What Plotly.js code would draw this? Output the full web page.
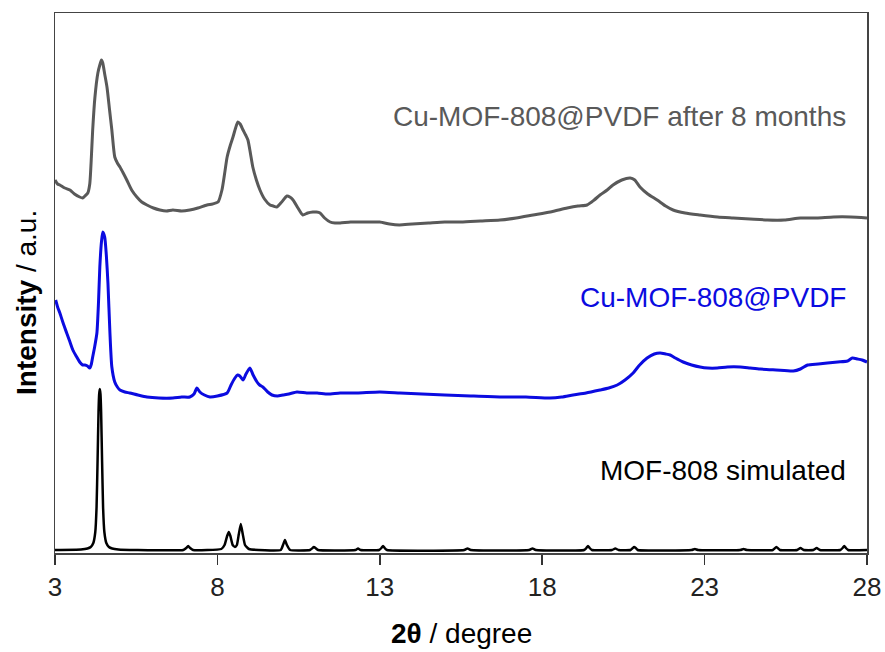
<!DOCTYPE html>
<html>
<head>
<meta charset="utf-8">
<script src="https://cdn.plot.ly/plotly-3.0.1.min.js"></script>
<style>html,body{margin:0;padding:0;background:#fff;}#chart{width:885px;height:652px;}</style>
</head>
<body>
<div id="chart"></div>
<script>
// 2θ (degree) and intensity (a.u., stacked offsets)
const agedX = [3.0,3.08,3.15,3.3,3.46,3.6,3.76,3.85,3.92,4.01,4.07,4.12,4.16,4.23,4.32,4.38,4.43,4.47,4.53,4.60,4.68,4.75,4.84,4.92,5.00,5.10,5.21,5.36,5.52,5.67,5.83,6.03,6.23,6.43,6.63,6.9,7.15,7.4,7.68,7.85,8.02,8.14,8.22,8.30,8.40,8.48,8.56,8.63,8.70,8.79,8.87,8.94,9.02,9.09,9.2,9.31,9.45,9.62,9.72,9.83,9.98,10.14,10.23,10.33,10.48,10.63,10.78,10.94,11.05,11.16,11.3,11.47,11.62,11.78,12.1,12.5,13.0,13.3,13.6,14.0,14.5,15.0,15.5,16.1,16.7,17.2,17.72,18.25,18.77,19.1,19.38,19.6,19.78,20.0,20.18,20.45,20.71,20.85,21.01,21.25,21.54,21.8,22.03,22.4,22.86,23.4,23.88,24.4,24.93,25.45,25.95,26.45,26.97,27.5,28.0];
const agedY = [372,368,367,364,362,358,355,354,356,359,368,395,422,455,479,487,492,489,478,465,442,422,395,389,385,379,372,362,355,350,347,344,342,341,342,341,342,344,347,348,350,362,378,395,407,415,424,430,428,422,417,412,398,385,372,362,353,347,346,345,350,356,355,352,344,337,339,340,340,339,334,330,329,329,330,330,330,328,327,328,329,330,330,331,332,334,337,340,344,346,347,352,357,362,367,372,374,372,365,358,352,346,342,339,337,335,334,333,332,332,334,334,335,335,334];

const pvdfX = [3.02,3.08,3.15,3.25,3.36,3.45,3.55,3.65,3.76,3.85,3.92,4.0,4.07,4.12,4.16,4.22,4.29,4.34,4.38,4.43,4.47,4.53,4.58,4.63,4.69,4.75,4.84,4.92,5.00,5.15,5.30,5.55,5.83,6.2,6.63,6.9,7.15,7.28,7.37,7.46,7.6,7.77,8.0,8.30,8.42,8.54,8.62,8.69,8.79,8.88,9.00,9.10,9.22,9.30,9.40,9.55,9.68,9.85,10.02,10.2,10.45,10.75,11.07,11.4,11.78,12.3,13.0,13.62,14.3,15.0,15.8,16.70,17.5,18.24,18.6,18.95,19.35,19.78,20.05,20.31,20.55,20.80,21.0,21.23,21.45,21.63,21.8,21.94,22.1,22.34,22.6,22.86,23.1,23.39,23.7,24.10,24.4,24.71,25.2,25.73,25.95,26.17,26.5,26.78,27.1,27.40,27.55,27.71,27.85,28.0];
const pvdfY = [252,245,239,229,219,211,202,196,190,187,187,186,184,188,195,205,219,250,285,310,320,315,297,269,220,185,170,165,162,160,159,157,155,154,154,155,155,158,164,160,157,155,156,159,167,174,177,176,172,178,184,177,170,167,165,160,157,156,157,158,160,159,159,158,159,159,160,159,158,157,156,155,155,154,155,157,159,162,164,167,172,179,187,194,198,199,198,197,194,190,187,185,184,184,185,185,184,183,182,181,183,187,188,189,190,191,194,193,192,190,189];

const simX = [3.0,3.8,4.0,4.1,4.18,4.24,4.28,4.31,4.34,4.36,4.38,4.40,4.42,4.45,4.48,4.52,4.58,4.66,4.76,4.95,5.5,6.95,7.04,7.10,7.16,7.25,8.12,8.22,8.30,8.35,8.40,8.47,8.54,8.60,8.66,8.72,8.78,8.85,8.97,9.95,10.02,10.08,10.14,10.24,10.85,10.93,10.97,11.02,11.10,12.25,12.33,12.41,12.98,13.05,13.10,13.15,13.22,15.6,15.7,15.8,17.6,17.7,17.8,19.29,19.36,19.41,19.46,19.53,20.15,20.25,20.35,20.72,20.79,20.83,20.88,20.94,22.6,22.7,22.8,24.1,24.2,24.3,25.1,25.21,25.32,25.85,25.95,26.05,26.35,26.45,26.55,27.18,27.25,27.30,27.35,27.42,28.0];
const simY = [2,2.5,3.5,5,9,20,45,90,140,158,163,158,140,90,45,20,9,5,3.5,2.5,2,2,4,6,4,2,3,7,16,20,16,7,5,7,18,28,18,7,3,2,7,12,7,2,2,4,5,4,2,2,3.5,2,2,4,6,4,2,2,3.5,2,2,3.5,2,2,4,6,4,2,2,3.5,2,2,4,5,4,2,2,3,2,2,3,2,2,5,2,2,4,2,2,4,2,2,4,6,4,2,2];

const seriesNames = ['Cu-MOF-808@PVDF after 8 months','Cu-MOF-808@PVDF','MOF-808 simulated'];
const xTicks = [3,8,13,18,23,28];

const FONT = 'Liberation Sans, Arial, Helvetica, sans-serif';

const traces = [
  {x: agedX, y: agedY, name: seriesNames[0], mode:'lines', line:{color:'#595959', width:3, shape:'spline', smoothing:0.6}},
  {x: pvdfX, y: pvdfY, name: seriesNames[1], mode:'lines', line:{color:'#0b0be0', width:3, shape:'spline', smoothing:0.6}},
  {x: simX, y: simY, name: seriesNames[2], mode:'lines', line:{color:'#000000', width:2.5, shape:'spline', smoothing:0.4}}
];

const layout = {
  width: 885, height: 652,
  margin: {l:55, r:18, t:13, b:99},
  paper_bgcolor:'#ffffff', plot_bgcolor:'#ffffff',
  showlegend: false,
  font: {family: FONT, size: 26, color:'#000'},
  xaxis: {
    range: [3, 28], tickvals: xTicks, ticktext: xTicks.map(String),
    ticks:'outside', ticklen: 10, tickwidth: 1.5, tickcolor:'#333',
    showline:true, linecolor:'#444', linewidth:1.5, mirror:true,
    showgrid:false, zeroline:false,
    tickfont:{family:FONT, size:26, color:'#222'}
  },
  yaxis: {
    range: [-1, 539], showticklabels:false, ticks:'',
    showline:true, linecolor:'#444', linewidth:1.5, mirror:true,
    showgrid:false, zeroline:false
  },
  annotations: [
    {text: seriesNames[0], xref:'x', yref:'paper', x:27.42, y:(553-117)/540, xanchor:'right', yanchor:'middle', showarrow:false, font:{family:FONT, size:28, color:'#595959'}},
    {text: seriesNames[1], xref:'x', yref:'paper', x:27.42, y:(553-297)/540, xanchor:'right', yanchor:'middle', showarrow:false, font:{family:FONT, size:28, color:'#0b0be0'}},
    {text: seriesNames[2], xref:'x', yref:'paper', x:27.42, y:(553-470)/540, xanchor:'right', yanchor:'middle', showarrow:false, font:{family:FONT, size:28, color:'#000'}},
    {text: '<b>2θ</b> / degree', xref:'paper', yref:'paper', x:0.5, y:0, yshift:-80, xanchor:'center', yanchor:'middle', showarrow:false, font:{family:FONT, size:28, color:'#000'}},
    {text: '<b>Intensity</b> / a.u.', xref:'paper', yref:'paper', x:0, y:(553-303)/540, xshift:-28, xanchor:'center', yanchor:'middle', textangle:-90, showarrow:false, font:{family:FONT, size:28, color:'#000'}}
  ]
};

Plotly.newPlot('chart', traces, layout, {staticPlot:true, displayModeBar:false});
</script>
</body>
</html>
